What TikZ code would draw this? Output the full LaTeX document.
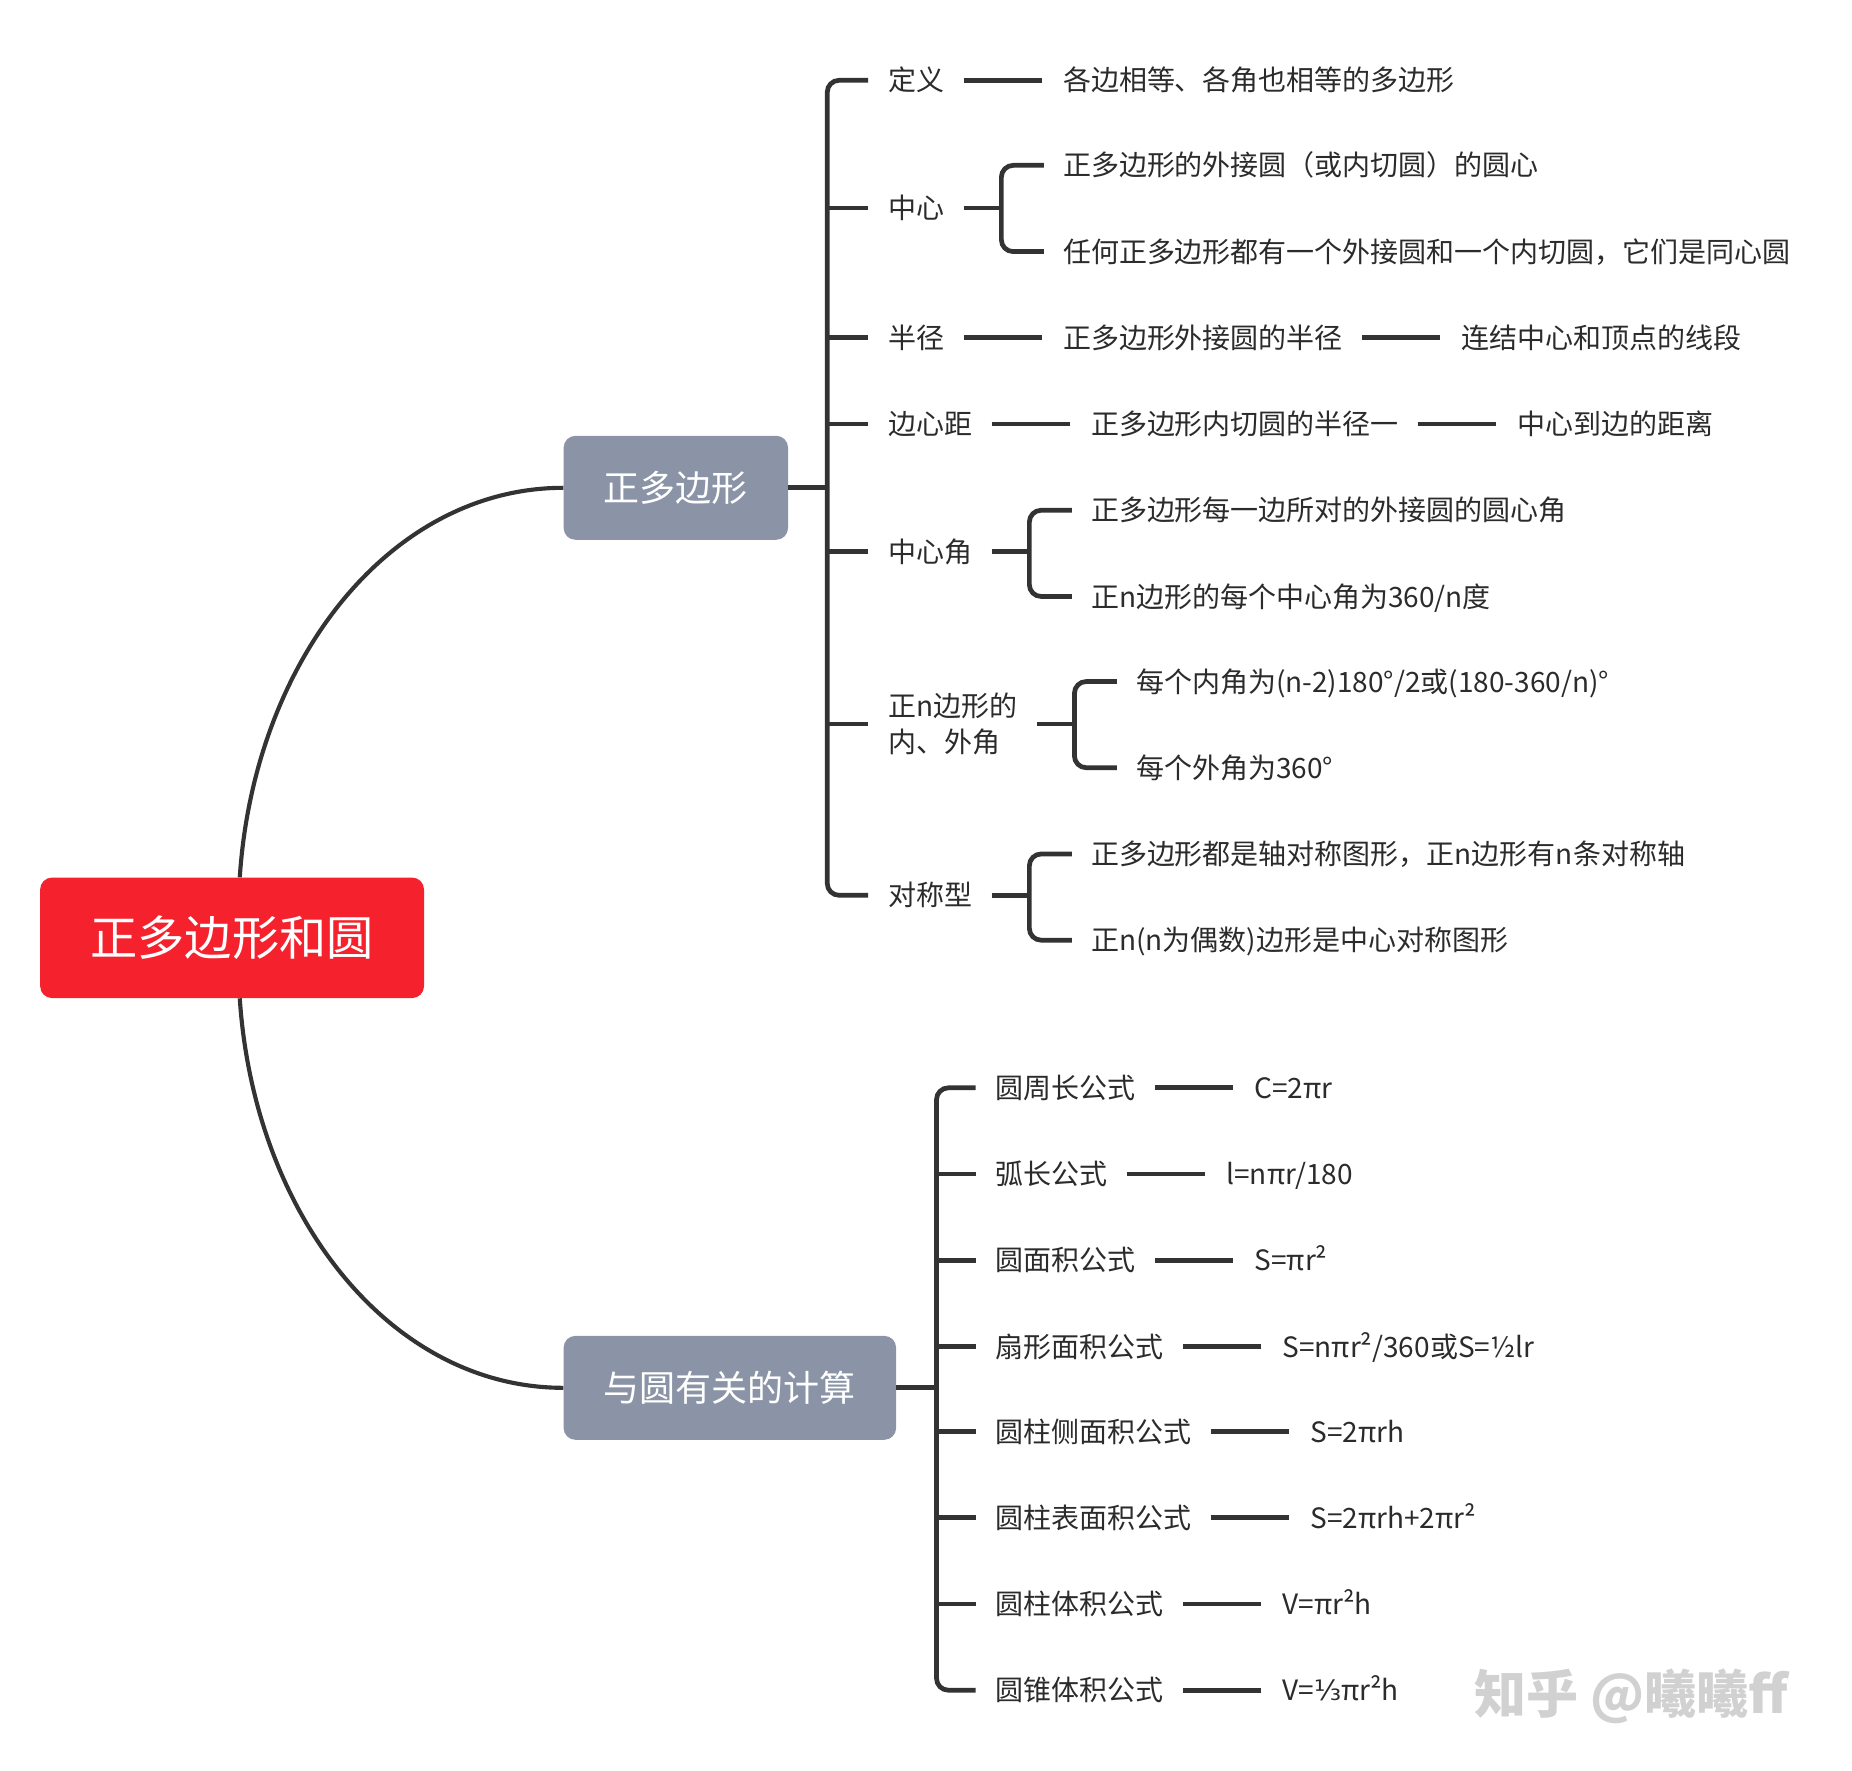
\documentclass[tikz,border=0pt]{standalone}
\usepackage{fontspec}
\setmainfont{Noto Sans CJK SC}
\newfontfamily\fracfont{DejaVu Sans}
\usepackage{tikz}
\usetikzlibrary{positioning, calc}
\tikzset{
  root/.style={rectangle,rounded corners=10pt,fill=mind_red,text=white,font=\fontsize{40}{48}\selectfont,minimum width=325pt,minimum height=102pt},
  topic/.style={rectangle,rounded corners=10pt,fill=mind_grey,text=white,font=\fontsize{30.5}{36}\selectfont,minimum height=88pt,inner xsep=34pt,anchor=west},
  leaf/.style={inner sep=0pt,text=mind_text,font=\fontsize{23.7}{31}\selectfont,text height=22pt,text depth=4pt,anchor=west},
  leaf_ml/.style={leaf,align=left,text height=,text depth=},
  link/.style={line width=4pt,draw=mind_line},
  linkc/.style={link,rounded corners=10pt},
  curve/.style={line width=3.5pt,draw=mind_line},
  wmark/.style={inner sep=0pt,text=black!18,font=\fontsize{44}{50}\selectfont\bfseries},
}
\definecolor{mind_red}{HTML}{F5222D}
\definecolor{mind_grey}{HTML}{8A94A6}
\definecolor{mind_text}{HTML}{2B2B2B}
\definecolor{mind_line}{HTML}{333333}

\begin{document}
\begin{tikzpicture}[x=1pt,y=-1pt]
  \useasboundingbox (0,0) rectangle (1568,1499);
  % centre and the two topics
  \node[root] (ROOT) at (196.5,794) {正多边形和圆};
  \node[topic] (POLY) at (477,413) {正多边形};
  \node[topic] (CALC) at (477,1175) {与圆有关的计算};
  \draw[curve] ($(ROOT.north)+(6.5,0)$) .. controls +(12,-183) and +(-147,0) .. (POLY.west);
  \draw[curve] ($(ROOT.south)+(6.5,0)$) .. controls +(12,183) and +(-147,0) .. (CALC.west);

  % first topic
  \node[leaf] (DEF) at (752,68) {定义};
  \node[leaf,right=100pt of DEF] (DEF_T) {各边相等、各角也相等的多边形};
  \node[leaf] (CEN) at (752,176) {中心};
  \node[leaf,right=100pt of CEN,yshift=36pt] (CEN_A) {正多边形的外接圆（或内切圆）的圆心};
  \node[leaf,right=100pt of CEN,yshift=-37pt] (CEN_B) {任何正多边形都有一个外接圆和一个内切圆，它们是同心圆};
  \node[leaf] (RAD) at (752,286) {半径};
  \node[leaf,right=100pt of RAD] (RAD_T) {正多边形外接圆的半径};
  \node[leaf,right=100pt of RAD_T] (RAD_TT) {连结中心和顶点的线段};
  \node[leaf] (DIS) at (752,359) {边心距};
  \node[leaf,right=100pt of DIS] (DIS_T) {正多边形内切圆的半径一};
  \node[leaf,right=100pt of DIS_T] (DIS_TT) {中心到边的距离};
  \node[leaf] (ANG) at (752,467) {中心角};
  \node[leaf,right=100pt of ANG,yshift=35pt] (ANG_A) {正多边形每一边所对的外接圆的圆心角};
  \node[leaf,right=100pt of ANG,yshift=-38pt] (ANG_B) {正n边形的每个中心角为360/n度};
  \node[leaf_ml] (INT) at (752,613) {正n边形的\\内、外角};
  \node[leaf,right=100pt of INT,yshift=36pt] (INT_A) {每个内角为(n-2)180°/2或(180-360/n)°};
  \node[leaf,right=100pt of INT,yshift=-37pt] (INT_B) {每个外角为360°};
  \node[leaf] (SYM) at (752,758) {对称型};
  \node[leaf,right=100pt of SYM,yshift=35pt] (SYM_A) {正多边形都是轴对称图形，正n边形有n条对称轴};
  \node[leaf,right=100pt of SYM,yshift=-38pt] (SYM_B) {正n(n为偶数)边形是中心对称图形};

  \coordinate (PSP) at ($(POLY.east)+(33,0)$);
  \draw[link] (POLY.east) -- (PSP);
  \draw[linkc] ($(DEF.west)+(-17,0)$) -| (PSP) |- ($(SYM.west)+(-17,0)$);
  \foreach \n in {CEN,RAD,DIS,ANG,INT}
    \draw[link] (PSP |- \n) -- ($(\n.west)+(-17,0)$);

  % second topic
  \node[leaf] (PER) at (843,921) {圆周长公式};
  \node[leaf,right=100pt of PER] (PER_T) {C=2πr};
  \node[leaf] (ARC) at (843,994) {弧长公式};
  \node[leaf,right=100pt of ARC] (ARC_T) {l=nπr/180};
  \node[leaf] (AREA) at (843,1067) {圆面积公式};
  \node[leaf,right=100pt of AREA] (AREA_T) {S=πr²};
  \node[leaf] (SEC) at (843,1140) {扇形面积公式};
  \node[leaf,right=100pt of SEC] (SEC_T) {S=nπr²/360或S=½lr};
  \node[leaf] (SIDE) at (843,1212) {圆柱侧面积公式};
  \node[leaf,right=100pt of SIDE] (SIDE_T) {S=2πrh};
  \node[leaf] (SURF) at (843,1285) {圆柱表面积公式};
  \node[leaf,right=100pt of SURF] (SURF_T) {S=2πrh+2πr²};
  \node[leaf] (CYL) at (843,1358) {圆柱体积公式};
  \node[leaf,right=100pt of CYL] (CYL_T) {V=πr²h};
  \node[leaf] (CONE) at (843,1431) {圆锥体积公式};
  \node[leaf,right=100pt of CONE] (CONE_T) {V={\fracfont ⅓}πr²h};

  \coordinate (CSP) at ($(CALC.east)+(34,0)$);
  \draw[link] (CALC.east) -- (CSP);
  \draw[linkc] ($(PER.west)+(-17,0)$) -| (CSP) |- ($(CONE.west)+(-17,0)$);
  \foreach \n in {ARC,AREA,SEC,SIDE,SURF,CYL}
    \draw[link] (CSP |- \n) -- ($(\n.west)+(-17,0)$);

  % plain links and brackets
  \foreach \a/\b in {DEF/DEF_T,RAD/RAD_T,RAD_T/RAD_TT,DIS/DIS_T,DIS_T/DIS_TT,
      PER/PER_T,ARC/ARC_T,AREA/AREA_T,SEC/SEC_T,SIDE/SIDE_T,SURF/SURF_T,CYL/CYL_T,CONE/CONE_T}
    \draw[link] ($(\a.east)+(16,0)$) -- ($(\b.west)+(-18,0)$);
  \foreach \p/\u/\l in {CEN/CEN_A/CEN_B,ANG/ANG_A/ANG_B,INT/INT_A/INT_B,SYM/SYM_A/SYM_B}{
    \draw[link] ($(\p.east)+(16,0)$) -- ++(32,0);
    \draw[linkc] ($(\u.west)+(-16,0)$) -| ($(\l.west)+(-52,0)$) -- ($(\l.west)+(-16,0)$);
  }

  \node[wmark,anchor=west] (WM) at (1248,1436) {知乎 @曦曦ff};
\end{tikzpicture}
\end{document}
